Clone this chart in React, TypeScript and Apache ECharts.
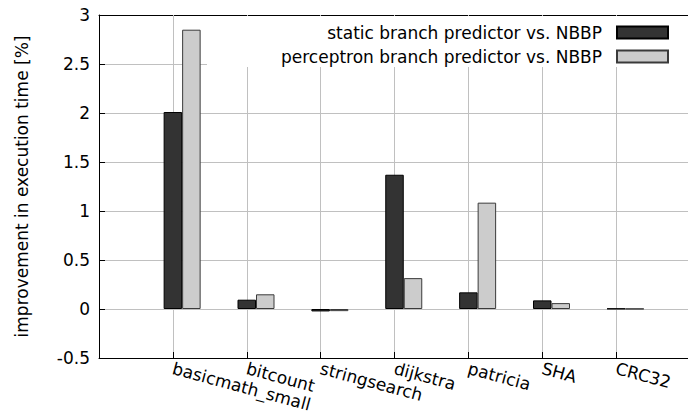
import { useEffect, useRef } from "react";
import * as echarts from "echarts";

const categories = ["basicmath_small", "bitcount", "stringsearch", "dijkstra", "patricia", "SHA", "CRC32"];
const staticVsNBBP = [2.01, 0.095, -0.025, 1.37, 0.17, 0.088, 0.004];
const perceptronVsNBBP = [2.85, 0.15, -0.022, 0.315, 1.085, 0.06, 0.002];
const seriesNames = ["static branch predictor vs. NBBP", "perceptron branch predictor vs. NBBP"];
const yAxisName = "improvement in execution time [%]";
const yMin = -0.5;
const yMax = 3;
const yInterval = 0.5;
const xMin = -1;
const xMax = 7;

const FONT = "DejaVu Sans";

export default function App() {
  const ref = useRef<HTMLDivElement>(null);

  useEffect(() => {
    document.body.style.margin = "0";
    if (!ref.current) return;
    const chart = echarts.init(ref.current, undefined, { renderer: "svg" });
    const pairs = (vals: number[]) => vals.map((v, i) => [i, v]);
    const barW = 18.5;
    const gridColor = "#c0c0c0";
    const xCommon = { type: "value", min: xMin, max: xMax, interval: 1 };
    const yCommon = { type: "value", min: yMin, max: yMax, interval: yInterval };
    const blackLine = () => ({ show: true, onZero: false, lineStyle: { color: "#000", width: 1 } });
    const inTick = () => ({ show: true, inside: true, length: 6, lineStyle: { color: "#000", width: 1 } });

    chart.setOption({
      animation: false,
      textStyle: { fontFamily: FONT },
      grid: { left: 99, top: 15, right: -2, bottom: 57, outerBoundsMode: "none", containLabel: false },
      legend: {
        orient: "vertical",
        right: 19,
        top: 24,
        padding: 0,
        align: "right",
        icon: "rect",
        itemWidth: 51,
        itemHeight: 12,
        itemGap: 7,
        selectedMode: false,
        z: 14,
        data: seriesNames,
        textStyle: { fontSize: 17, fontFamily: FONT, color: "#000", padding: [0, 10, 0, 0] },
      },
      graphic: {
        elements: [
          {
            type: "rect",
            z: 10.5,
            silent: true,
            shape: { x: 207, y: 16, width: 483, height: 51 },
            style: { fill: "#ffffff" },
          },
        ],
      },
      xAxis: [
        {
          ...xCommon,
          position: "bottom",
          z: 10,
          axisLine: blackLine(),
          axisTick: inTick(),
          splitLine: {
            show: true,
            showMinLine: false,
            showMaxLine: false,
            lineStyle: { color: gridColor, width: 1, type: "solid" },
          },
          axisLabel: {
            show: true,
            rotate: -15,
            margin: 10,
            fontSize: 17,
            fontFamily: FONT,
            color: "#000",
            formatter: (v: number) => categories[v] ?? "",
          },
        },
        {
          ...xCommon,
          position: "top",
          z: 9,
          axisLine: blackLine(),
          axisTick: inTick(),
          splitLine: { show: false },
          axisLabel: { show: false },
        },
      ],
      yAxis: [
        {
          ...yCommon,
          position: "left",
          z: 10,
          name: yAxisName,
          nameLocation: "middle",
          nameGap: 69,
          nameTextStyle: { fontSize: 17, fontFamily: FONT, color: "#000" },
          axisLine: blackLine(),
          axisTick: inTick(),
          splitLine: {
            show: true,
            showMinLine: false,
            showMaxLine: false,
            lineStyle: { color: gridColor, width: 1, type: "solid" },
          },
          axisLabel: { show: true, margin: 9, fontSize: 17, fontFamily: FONT, color: "#000" },
        },
      ],
      series: [
        {
          type: "bar",
          name: "_spacer",
          data: [],
          barWidth: barW,
          barGap: "0%",
          silent: true,
          z: 11,
          xAxisIndex: 0,
          yAxisIndex: 0,
        },
        {
          type: "bar",
          name: seriesNames[0],
          data: pairs(staticVsNBBP),
          barWidth: barW,
          barGap: "0%",
          z: 11,
          xAxisIndex: 0,
          yAxisIndex: 0,
          itemStyle: { color: "#333333", borderColor: "#000000", borderWidth: 1 },
        },
        {
          type: "bar",
          name: seriesNames[1],
          data: pairs(perceptronVsNBBP),
          barWidth: barW,
          barGap: "0%",
          z: 11,
          xAxisIndex: 0,
          yAxisIndex: 0,
          itemStyle: { color: "#cccccc", borderColor: "#3a3a3a", borderWidth: 1 },
        },
      ],
    });

    return () => chart.dispose();
  }, []);

  return (
    <div
      ref={ref}
      style={{ position: "fixed", left: 0, top: 0, width: 688, height: 415, background: "#fff" }}
    />
  );
}
